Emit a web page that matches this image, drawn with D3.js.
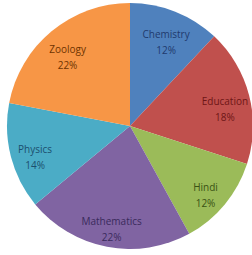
<!DOCTYPE html>
<html>
<head>
<meta charset="utf-8">
<script src="https://cdn.jsdelivr.net/npm/d3@7"></script>
<style>
  body { margin: 0; background: #fff; }
</style>
</head>
<body>
<div class="chart"></div>
<script>
//Chart data
const subjects = ["Chemistry", "Education", "Hindi", "Mathematics", "Physics", "Zoology"];
const shares = [12, 18, 12, 22, 14, 22];
const fills = ["#4f81bd", "#c0504d", "#9bbb59", "#8064a2", "#4bacc6", "#f79646"];
const textColors = ["#1f3a6e", "#6e1616", "#3a5214", "#3a2a5c", "#1c4f6e", "#6e3300"];

let WIDTH = 252,
    HEIGHT = 255,
    RADIUS = 123,
    CX = 130,
    CY = 126;

const data = subjects.map((s, i) => ({ subject: s, value: shares[i], i: i }));

let svg = d3
    .select(".chart")
    .append("svg")
    .attr("width", WIDTH)
    .attr("height", HEIGHT)
    .append("g")
    .attr("transform", `translate(${CX}, ${CY})`);

let pie = d3.pie().sort(null).value(d => d.value);
let arc = d3.arc().innerRadius(0).outerRadius(RADIUS);
let labelArc = d3.arc().innerRadius(98).outerRadius(98);

//Slices
svg.selectAll(".slice")
    .data(pie(data))
    .enter()
    .append("path")
    .attr("class", "slice")
    .attr("d", arc)
    .style("fill", d => fills[d.data.i])
    .style("stroke", "none");

//Labels (nudged a little down, like the original)
let labels = svg.selectAll(".label")
    .data(pie(data))
    .enter()
    .append("text")
    .attr("class", "label")
    .attr("transform", d => {
        let c = labelArc.centroid(d);
        return `translate(${c[0]}, ${c[1] + 5})`;
    })
    .attr("text-anchor", "middle")
    .attr("font-family", "Open Sans, sans-serif")
    .attr("font-size", "10px")
    .style("fill", d => textColors[d.data.i]);

labels.append("tspan")
    .attr("x", 0)
    .attr("dy", "-0.2em")
    .text(d => d.data.subject);

labels.append("tspan")
    .attr("x", 0)
    .attr("dy", "1.6em")
    .text(d => d.data.value + "%");
</script>
</body>
</html>
